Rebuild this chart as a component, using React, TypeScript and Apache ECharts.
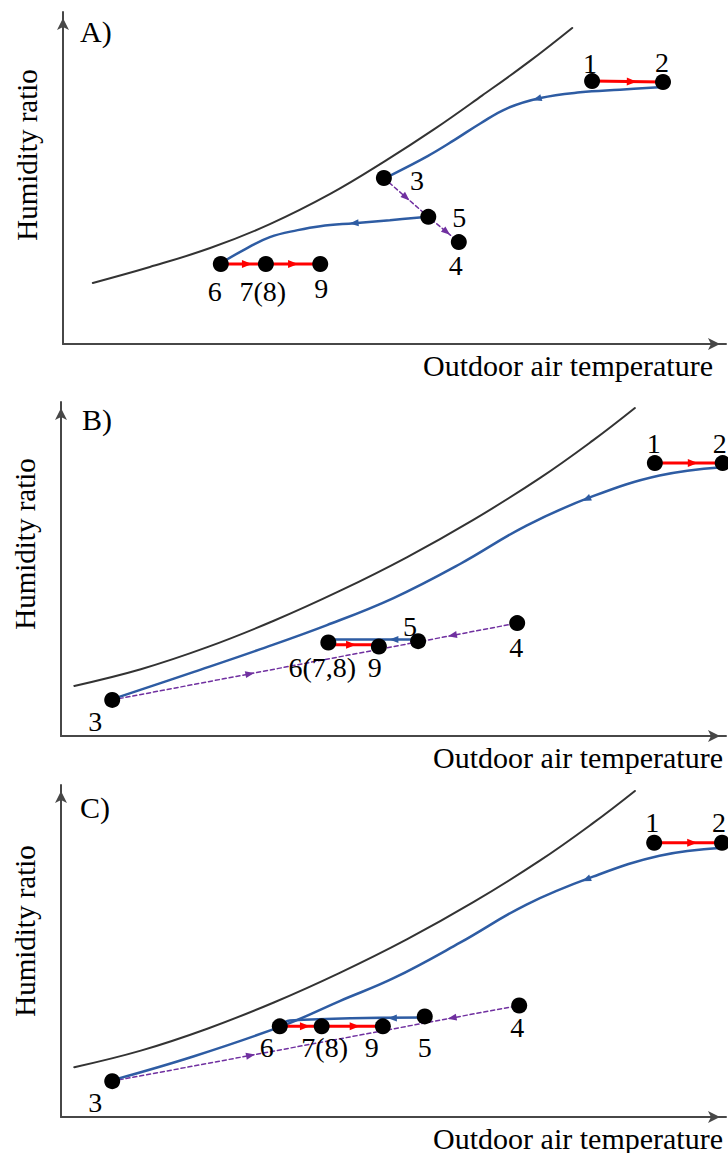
import React, { useEffect, useRef } from "react";
import * as echarts from "echarts";

type Pt = [number, number];

const FONT = "Liberation Serif, Times New Roman, serif";

// ---- Panel A: states, saturation curve and processes ----
const stateNamesA = ["1", "2", "3", "4", "5", "6", "7(8)", "9"];
const stateXA = [79.8, 90.5, 48.4, 59.7, 55.1, 23.8, 30.6, 38.8];
const stateYA = [79.2, 78.9, 50.0, 30.7, 38.3, 24.1, 24.1, 24.1];

const saturationA: Pt[] = [
  [4.5, 18.4], [13.1, 23.2], [22.2, 28.9], [31.2, 36.1], [40.3, 45.2],
  [48.5, 55.0], [56.0, 64.7], [63.2, 74.8], [70.4, 85.2], [76.8, 95.2],
];
const coolingA: Pt[][] = [
  [[90.5, 77.4], [84, 76.6], [78, 75.8], [72, 74.1], [67, 71.0], [63, 66.5],
   [59, 61.4], [55, 56.6], [49.5, 50.9]],
  [[55.1, 38.3], [49.3, 37.3], [43.9, 36.4], [38.8, 35.5], [35.4, 34.3], [31.2, 32.2],
   [27.5, 28.6], [24.1, 24.7]],
];
const heatingA: Pt[][] = [
  [[79.8, 79.2], [90.5, 78.9]],
  [[23.8, 24.1], [30.6, 24.1], [38.8, 24.1]],
];
const mixingA: Pt[][] = [[[48.4, 50.0], [55.1, 38.3], [59.7, 30.7]]];

// ---- Panel B ----
const stateNamesB = ["1", "2", "3", "4", "5", "6(7,8)", "9"];
const stateXB = [89.3, 99.5, 7.7, 68.6, 53.7, 40.2, 47.8];
const stateYB = [81.7, 81.7, 10.8, 33.8, 28.4, 28.0, 26.8];

// Saturation curve shared by panels B and C
const saturationBC: Pt[] = [
  [2, 15.0], [12, 20.0], [22, 26.6], [32, 34.5], [42, 43.5], [52, 53.5],
  [62, 64.7], [72, 77.2], [80, 88.5], [86.3, 98.2],
];
const coolingB: Pt[][] = [
  [[99.4, 80.5], [90, 78.0], [80, 71.8], [70, 63.0], [60, 51.5], [50, 41.3],
   [40, 33.2], [30, 26.0], [20, 19.2], [8.3, 11.4]],
  [[53.7, 28.9], [40.2, 28.9]],
];
const heatingB: Pt[][] = [
  [[89.3, 81.7], [99.5, 81.7]],
  [[40.2, 27.3], [47.8, 27.3]],
];
const mixingB: Pt[][] = [[[7.7, 10.8], [68.6, 33.8]]];

// ---- Panel C ----
const stateNamesC = ["1", "2", "3", "4", "5", "6", "7(8)", "9"];
const stateXC = [89.2, 99.4, 7.7, 68.9, 54.7, 32.9, 39.2, 48.4];
const stateYC = [82.6, 82.6, 10.8, 33.6, 30.3, 27.3, 27.3, 27.3];

const coolingC: Pt[][] = [
  [[99.4, 81.1], [90, 78.7], [80, 72.4], [70, 64.0], [60, 52.5], [50, 41.8],
   [42, 35.0], [33.5, 27.6], [20, 18.3], [8.3, 11.4]],
  [[54.7, 30.0], [34.4, 29.1], [32.9, 27.3]],
];
const heatingC: Pt[][] = [
  [[89.2, 82.6], [99.4, 82.6]],
  [[32.9, 27.3], [39.2, 27.3], [48.4, 27.3]],
];
const mixingC: Pt[][] = [[[7.7, 10.8], [68.9, 33.6]]];

// Arrow markers: [path index, segment index, position along segment, direction]
const coolingArrowsA = [[0, 3, 0.1, 1], [1, 2, 0, 1]];
const heatingArrowsA = [[0, 0, 0.56, 1], [1, 0, 0.58, 1], [1, 1, 0.5, 1]];
const mixingArrowsA = [[0, 0, 0.5, 1], [0, 1, 0.6, 1]];
const coolingArrowsB = [[0, 2, 0.1, 1], [1, 0, 0.27, 1]];
const heatingArrowsB = [[0, 0, 0.56, 1], [1, 0, 0.45, 1]];
const mixingArrowsB = [[0, 0, 0.34, 1], [0, 0, 0.84, -1]];
const coolingArrowsC = [[0, 2, 0.1, 1], [1, 0, 0.24, 1]];
const heatingArrowsC = [[0, 0, 0.56, 1], [1, 0, 0.6, 1], [1, 1, 0.54, 1]];
const mixingArrowsC = [[0, 0, 0.34, 1], [0, 0, 0.835, -1]];

// Label placement (px offset of each state label from its marker)
const labelOffsetA = [[-2, -18], [-1, -20], [33, 2], [-3, 23], [31, 1], [-6, 28], [-3, 28], [1, 25]];
const labelOffsetB = [[-1, -20], [-3, -20], [-17, 22], [-1, 24], [-8, -15], [-6, 25], [-4, 21]];
const labelOffsetC = [[-2, -20], [-3, -20], [-17, 21], [-2, 22], [0, 31], [-13, 21], [3, 21], [-11, 21]];

const panelTitles = ["A)", "B)", "C)"];
const xAxisName = "Outdoor air temperature";
const yAxisName = "Humidity ratio";

const COLORS = {
  axis: "#474747",
  saturation: "#333333",
  cooling: "#2e5ca3",
  heating: "#ff0000",
  mixing: "#7030a0",
  state: "#000000",
};

interface Grid { left: number; top: number; width: number; height: number }

const panels = [
  {
    grid: { left: 63, top: 12, width: 663, height: 332 },
    titlePos: [80, 16], xNameGap: -13, yNameShift: 46,
    names: stateNamesA, xs: stateXA, ys: stateYA, offsets: labelOffsetA,
    saturation: saturationA,
    cooling: coolingA, coolingArrows: coolingArrowsA,
    heating: heatingA, heatingArrows: heatingArrowsA,
    mixing: mixingA, mixingArrows: mixingArrowsA,
  },
  {
    grid: { left: 61, top: 402, width: 665, height: 334 },
    titlePos: [82, 404], xNameGap: -3, yNameShift: 50,
    names: stateNamesB, xs: stateXB, ys: stateYB, offsets: labelOffsetB,
    saturation: saturationBC,
    cooling: coolingB, coolingArrows: coolingArrowsB,
    heating: heatingB, heatingArrows: heatingArrowsB,
    mixing: mixingB, mixingArrows: mixingArrowsB,
  },
  {
    grid: { left: 61, top: 785, width: 665, height: 333 },
    titlePos: [80, 792], xNameGap: -3, yNameShift: 40,
    names: stateNamesC, xs: stateXC, ys: stateYC, offsets: labelOffsetC,
    saturation: saturationBC,
    cooling: coolingC, coolingArrows: coolingArrowsC,
    heating: heatingC, heatingArrows: heatingArrowsC,
    mixing: mixingC, mixingArrows: mixingArrowsC,
  },
];

function arrowItems(paths: Pt[][], specs: number[][], g: Grid) {
  return specs.map(([pi, si, t, dir]) => {
    const a = paths[pi][si];
    const b = paths[pi][si + 1];
    const x = a[0] + (b[0] - a[0]) * t;
    const y = a[1] + (b[1] - a[1]) * t;
    const dx = ((b[0] - a[0]) * dir * g.width) / 100;
    const dy = ((b[1] - a[1]) * dir * g.height) / 100;
    const deg = (Math.atan2(dy, dx) * 180) / Math.PI;
    return { value: [x, y], symbolRotate: deg - 90 };
  });
}

function buildSeries(p: (typeof panels)[number], i: number) {
  const base = { xAxisIndex: i, yAxisIndex: i, silent: true };
  const lines = (paths: Pt[][], color: string, width: number, smooth: boolean, z: number, type: any = "solid") =>
    paths.map((data) => ({
      ...base,
      type: "line",
      data,
      symbol: "none",
      smooth: smooth ? 0.4 : false,
      z,
      lineStyle: { color, width, type, cap: "round" },
    }));
  const arrows = (paths: Pt[][], specs: number[][], color: string, size: number[]) => ({
    ...base,
    type: "scatter",
    symbol: "triangle",
    symbolSize: size,
    z: 8,
    itemStyle: { color, opacity: 1 },
    data: arrowItems(paths, specs, p.grid),
  });
  return [
    ...lines([p.saturation], COLORS.saturation, 2, true, 2),
    ...lines(p.mixing, COLORS.mixing, 1.5, false, 3, [4, 3]),
    ...lines(p.cooling, COLORS.cooling, 2.5, true, 4),
    ...lines(p.heating, COLORS.heating, 3, false, 5),
    arrows(p.mixing, p.mixingArrows, COLORS.mixing, [7, 9]),
    arrows(p.cooling, p.coolingArrows, COLORS.cooling, [7, 9]),
    arrows(p.heating, p.heatingArrows, COLORS.heating, [8, 10]),
    {
      ...base,
      type: "scatter",
      symbol: "circle",
      symbolSize: 16,
      z: 10,
      itemStyle: { color: COLORS.state, opacity: 1 },
      label: {
        show: true,
        position: "inside",
        formatter: "{b}",
        fontFamily: FONT,
        fontSize: 28,
        color: "#000",
      },
      data: p.names.map((name, k) => ({
        name,
        value: [p.xs[k], p.ys[k]],
        label: { offset: p.offsets[k] },
      })),
    },
  ];
}

function buildOption() {
  const axisLine = {
    show: true,
    onZero: false,
    symbol: ["none", "arrow"],
    symbolSize: [9, 12],
    symbolOffset: [0, -6],
    lineStyle: { color: COLORS.axis, width: 2 },
  };
  return {
    animation: false,
    backgroundColor: "#ffffff",
    title: panels.map((p, i) => ({
      text: panelTitles[i],
      left: p.titlePos[0],
      top: p.titlePos[1],
      padding: 0,
      textStyle: { fontFamily: FONT, fontSize: 30, fontWeight: "normal", color: "#000" },
    })),
    grid: panels.map((p) => ({ ...p.grid, containLabel: false })),
    xAxis: panels.map((p, i) => ({
      gridIndex: i,
      type: "value",
      min: 0,
      max: 100,
      axisLine,
      axisTick: { show: false },
      axisLabel: { show: false },
      splitLine: { show: false },
      name: xAxisName,
      nameLocation: "end",
      nameGap: p.xNameGap,
      nameTextStyle: {
        fontFamily: FONT,
        fontSize: 30,
        color: "#000",
        align: "right",
        verticalAlign: "top",
        padding: [6, 0, 0, 0],
      },
    })),
    yAxis: panels.map((p, i) => ({
      gridIndex: i,
      type: "value",
      min: 0,
      max: 100,
      axisLine,
      axisTick: { show: false },
      axisLabel: { show: false },
      splitLine: { show: false },
      name: yAxisName,
      nameLocation: "middle",
      nameRotate: 90,
      nameGap: 22,
      nameTextStyle: {
        fontFamily: FONT,
        fontSize: 29,
        color: "#000",
        padding: [0, 0, 0, p.yNameShift],
      },
    })),
    series: panels.flatMap((p, i) => buildSeries(p, i)),
  };
}

export default function App() {
  const ref = useRef<HTMLDivElement>(null);
  useEffect(() => {
    if (!ref.current) return;
    const chart = echarts.init(ref.current, null, { renderer: "svg" });
    chart.setOption(buildOption() as any);
    return () => chart.dispose();
  }, []);
  return (
    <div
      ref={ref}
      style={{ position: "absolute", left: 0, top: 0, width: 728, height: 1153, background: "#fff" }}
    />
  );
}
